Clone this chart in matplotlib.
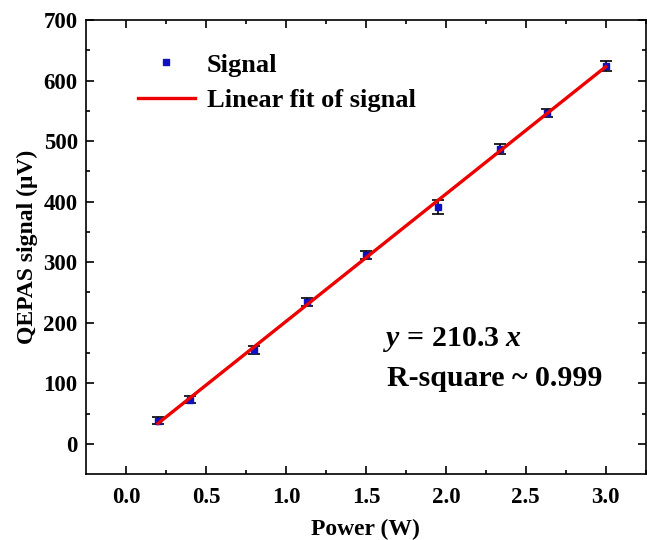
import numpy as np
import matplotlib
matplotlib.use("Agg")
import matplotlib.pyplot as plt

plt.rcParams['font.family'] = ['Liberation Serif', 'DejaVu Serif']
plt.rcParams['font.weight'] = 'bold'
plt.rcParams['mathtext.fontset'] = 'custom'
plt.rcParams['mathtext.it'] = 'Liberation Serif:italic:bold'
plt.rcParams['mathtext.rm'] = 'Liberation Serif:bold'

# measured points
power = [0.2, 0.4, 0.8, 1.13, 1.5, 1.95, 2.34, 2.63, 3.0]
signal = [38, 73, 155, 234, 312, 391, 487, 546, 624]
signal_err = [6, 6, 7, 7, 6, 11, 8, 7, 8]

# linear fit of the measured points
slope, intercept = np.polyfit(power, signal, 1)
fit_x = np.array([power[0], power[-1]])
fit_y = slope * fit_x + intercept

fig = plt.figure(figsize=(6.47, 5.4), dpi=100)
ax = fig.add_axes([0.133, 0.122, 0.865, 0.841])

ax.errorbar(power, signal, yerr=signal_err, fmt='none', ecolor='black',
            elinewidth=1.2, capsize=4, capthick=1.2, zorder=2)
ax.plot(power, signal, 's', color='#1010c0', markersize=5, label='Signal', zorder=3)
ax.plot(fit_x, fit_y, '-', color='#ee0000', linewidth=2.4,
        label='Linear fit of signal', zorder=4)

ax.set_xlim(-0.25, 3.25)
ax.set_ylim(-50, 700)
ax.set_xticks(np.arange(0, 3.01, 0.5))
ax.set_xticks(np.arange(0.25, 3.3, 0.5), minor=True)
ax.set_yticks(np.arange(0, 701, 100))
ax.set_yticks(np.arange(50, 700, 100), minor=True)
ax.set_xticklabels([f"{v:.1f}" for v in np.arange(0, 3.01, 0.5)])
ax.tick_params(which='both', direction='in', top=True, right=True,
               labelsize=16.5, width=1.2)
ax.tick_params(which='major', length=6)
ax.tick_params(which='minor', length=3)
ax.tick_params(axis='x', pad=9)
ax.tick_params(axis='y', pad=6)
for sp in ax.spines.values():
    sp.set_linewidth(1.2)

ax.set_xlabel('Power (W)', fontsize=17, fontweight='bold', labelpad=8)
ax.set_ylabel('QEPAS signal (\u03bcV)', fontsize=17, fontweight='bold', labelpad=4)

ax.legend(loc='upper left', bbox_to_anchor=(0.074, 0.95), frameon=False,
          handlelength=2.15, handletextpad=0.45, borderaxespad=0, labelspacing=0.45,
          prop={'weight': 'bold', 'size': 19})

ax.text(0.53, 0.283, '$y$ = 210.3 $x$', transform=ax.transAxes,
        fontsize=21.5, fontweight='bold')
ax.text(0.538, 0.193, 'R-square ~ 0.999', transform=ax.transAxes, fontsize=21.5,
        fontweight='bold')

fig.savefig('out.png', dpi=100)
